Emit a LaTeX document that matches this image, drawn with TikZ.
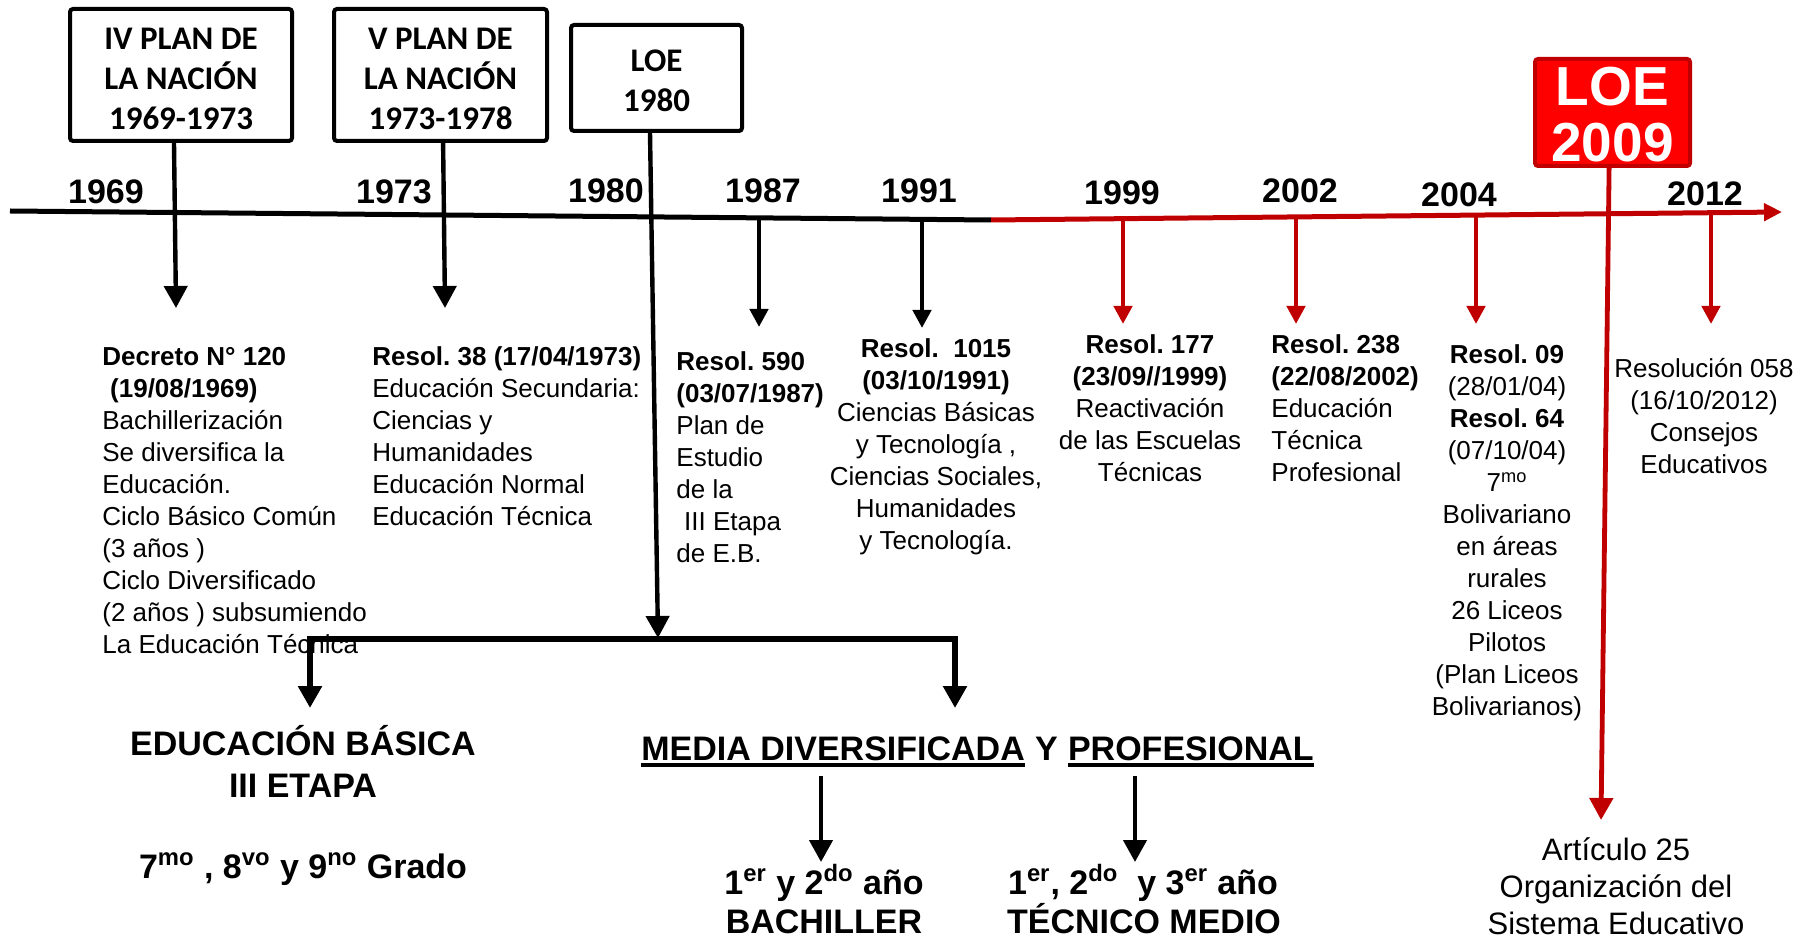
\documentclass[tikz,border=0pt]{standalone}
\usepackage{fontspec}
\setmainfont{Liberation Sans}
\newfontfamily\carl{Carlito}
\usetikzlibrary{arrows.meta}
\definecolor{dred}{HTML}{C00000}
\definecolor{bred}{HTML}{FF0000}
\newcommand{\myhs}{\rule{0pt}{1em}}
\begin{document}
\frenchspacing
\begin{tikzpicture}[x=0.5pt,y=-0.5pt,
  planbox/.style={draw=black,line width=2pt,rounded corners=1.5pt,inner sep=0pt},
  loebox/.style={draw=dred,fill=bred,line width=2pt,rounded corners=1.5pt,inner sep=0pt},
  boxtxt/.style={font=\carl\bfseries\fontsize{16.5}{20}\selectfont,align=center,inner sep=0pt,anchor=north},
  yr/.style={font=\bfseries\fontsize{17}{20}\selectfont,inner sep=0pt,anchor=base},
  bodyL/.style={font=\fontsize{13}{16}\selectfont,align=left,inner sep=0pt,anchor=north west},
  bodyC/.style={font=\fontsize{13}{16}\selectfont,align=center,inner sep=0pt,anchor=north},
  big/.style={font=\bfseries\fontsize{17}{21}\selectfont,inner sep=0pt,anchor=base},
  tickb/.style={draw=black,line width=2.2pt,-{Triangle[width=9pt,length=9pt]}},
  tickr/.style={draw=dred,line width=2.2pt,-{Triangle[width=9pt,length=9pt]}},
  bigarr/.style={draw=black,line width=2.2pt,-{Triangle[width=11.5pt,length=11pt]}},
  redbig/.style={draw=dred,line width=2.4pt,-{Triangle[width=11.5pt,length=11pt]}},
  uline/.style={draw=black,line width=2pt},
]
\useasboundingbox (0,0) rectangle (1802,940);

% ---- boxes ----
\node[planbox,minimum width=111pt,minimum height=66pt] (b1) at (181,75) {};
\node[boxtxt] (b1t) at (181,16) {\myhs IV PLAN DE\\LA NACIÓN\\1969-1973};
\node[planbox,minimum width=106.5pt,minimum height=66pt] (b2) at (440.5,75) {};
\node[boxtxt] (b2t) at (440.5,16) {\myhs V PLAN DE\\LA NACIÓN\\1973-1978};
\node[planbox,minimum width=85.5pt,minimum height=53pt] (b3) at (656.5,78) {};
\node[boxtxt] (b3t) at (656.5,38) {\myhs LOE\\1980};
\node[loebox,minimum width=77.5pt,minimum height=53.5pt] (b4) at (1612.5,112.5) {};
\node[font=\bfseries\fontsize{27.5}{28}\selectfont,text=white,align=center,inner sep=0pt,anchor=north] (b4t) at (1612.5,50) {\myhs LOE\\2009};

% ---- years ----
\node[yr] (y1969) at (106,204) {1969};
\node[yr] (y1973) at (394,204) {1973};
\node[yr] (y1980) at (606,203) {1980};
\node[yr] (y1987) at (763,203) {1987};
\node[yr] (y1991) at (919,203) {1991};
\node[yr] (y1999) at (1122,205) {1999};
\node[yr] (y2002) at (1300,203) {2002};
\node[yr] (y2004) at (1459,207) {2004};
\node[yr] (y2012) at (1705,206) {2012};

% ---- timeline ----
\coordinate (tlA) at (10,211);
\coordinate (tlB) at (991,220);
\coordinate (tlC) at (1782,212);
\draw[line width=2.5pt,black] (tlA) -- (tlB);
\draw[line width=2.5pt,dred,-{Triangle[width=8.5pt,length=9pt]}] (tlB) -- (tlC);

% ---- text blocks ----
\node[bodyL] (d120) at (102,339) {\myhs\textbf{Decreto N° 120}\\\textbf{\hspace{0.3em}(19/08/1969)}\\Bachillerización\\Se diversifica la\\Educación.\\Ciclo Básico Común\\(3 años )\\Ciclo Diversificado\\(2 años ) subsumiendo\\La Educación Técnica};
\node[bodyL] (r38) at (372,339) {\myhs\textbf{Resol. 38 (17/04/1973)}\\Educación Secundaria:\\Ciencias y\\Humanidades\\Educación Normal\\Educación Técnica};
\node[bodyL] (r590) at (676,344) {\myhs\textbf{Resol. 590}\\\textbf{(03/07/1987)}\\Plan de\\Estudio\\de la\\\hspace{0.3em}III Etapa\\de E.B.};
\node[bodyC] (r1015) at (936,331) {\myhs\textbf{Resol.\ \ 1015}\\\textbf{(03/10/1991)}\\Ciencias Básicas\\y Tecnología ,\\Ciencias Sociales,\\Humanidades\\y Tecnología.};
\node[bodyC] (r177) at (1150,327) {\myhs\textbf{Resol. 177}\\\textbf{(23/09//1999)}\\Reactivación\\de las Escuelas\\Técnicas};
\node[bodyL] (r238) at (1271,327) {\myhs\textbf{Resol. 238}\\\textbf{(22/08/2002)}\\Educación\\Técnica\\Profesional};
\node[bodyC] (r09) at (1507,337) {\myhs\textbf{Resol. 09}\\(28/01/04)\\\textbf{Resol. 64}\\(07/10/04)\\7\textsuperscript{mo}\\Bolivariano\\en áreas\\rurales\\26 Liceos\\Pilotos\\(Plan Liceos\\Bolivarianos)};
\node[bodyC] (r058) at (1704,351) {\myhs Resolución 058\\(16/10/2012)\\Consejos\\Educativos};
\node[font=\fontsize{15.5}{18.5}\selectfont,align=center,inner sep=0pt,anchor=north] (art) at (1616,829) {\myhs Artículo 25\\Organización del\\Sistema Educativo};

% ---- bottom texts ----
\node[big] (eb1) at (303,755) {EDUCACIÓN BÁSICA};
\node[big] (eb2) at (303,797) {III ETAPA};
\node[big] (eb3) at (303,878) {7\textsuperscript{mo} , 8\textsuperscript{vo} y 9\textsuperscript{no} Grado};
\node[big,anchor=base west] (mdA) at (641,760) {MEDIA DIVERSIFICADA};
\node[big,anchor=base west] (mdY) at (mdA.base east) {\rule{0pt}{0pt}\ Y\ \rule{0pt}{0pt}};
\node[big,anchor=base west] (mdB) at (mdY.base east) {PROFESIONAL};
\draw[uline] ([yshift=-2.6pt]mdA.base west) -- ([yshift=-2.6pt]mdA.base east);
\draw[uline] ([yshift=-2.6pt]mdB.base west) -- ([yshift=-2.6pt]mdB.base east);
\node[big] (ba1) at (824,894) {1\textsuperscript{er} y 2\textsuperscript{do} año};
\node[big] (ba2) at (824,933) {BACHILLER};
\node[big] (tm1) at (1143,894) {1\textsuperscript{er}, 2\textsuperscript{do}\ \ y 3\textsuperscript{er} año};
\node[big] (tm2) at (1144,933) {TÉCNICO MEDIO};

% ---- connectors from boxes ----
\coordinate (e1) at (176,308);
\coordinate (e2) at (445,308);
\draw[bigarr] ([xshift=-3.5pt]b1.south) -- (e1);
\draw[bigarr] ([xshift=1.3pt]b2.south) -- (e2);

% ---- ticks ----
\coordinate (k1987) at (759,218);   \coordinate (e1987) at (759,327);
\coordinate (k1991) at (922,219.4); \coordinate (e1991) at (922,328);
\coordinate (k1999) at (1123,218.7);\coordinate (e1999) at (1123,324);
\coordinate (k2002) at (1296,216.9);\coordinate (e2002) at (1296,324);
\coordinate (k2004) at (1476,215.1);\coordinate (e2004) at (1476,324);
\coordinate (k2012) at (1711,212.7);\coordinate (e2012) at (1711,324);
\draw[tickb] (k1987) -- (e1987);
\draw[tickb] (k1991) -- (e1991);
\draw[tickr] (k1999) -- (e1999);
\draw[tickr] (k2002) -- (e2002);
\draw[tickr] (k2004) -- (e2004);
\draw[tickr] (k2012) -- (e2012);

% ---- LOE 1980 branch ----
\coordinate (brJ) at (658,638);
\coordinate (brL) at (310,639);
\coordinate (brR) at (955,639);
\coordinate (ebT) at (310,708);
\coordinate (mdT) at (955,708);
\draw[bigarr] ([xshift=-3.25pt]b3.south) -- (brJ);
\draw[draw=black,line width=3pt,{Triangle[width=11.5pt,length=11pt]}-{Triangle[width=11.5pt,length=11pt]}] (ebT) -- (brL) -- (brR) -- (mdT);

% ---- media diversificada arrows ----
\coordinate (mdL) at (821,776);
\coordinate (mdR) at (1135,776);
\coordinate (baT) at (821,862);
\coordinate (tmT) at (1135,862);
\draw[bigarr] (mdL) -- (baT);
\draw[bigarr] (mdR) -- (tmT);

% ---- LOE 2009 arrow ----
\coordinate (artT) at (1601,820);
\draw[redbig] ([xshift=-1.7pt]b4.south) -- (artT);
\end{tikzpicture}
\end{document}
